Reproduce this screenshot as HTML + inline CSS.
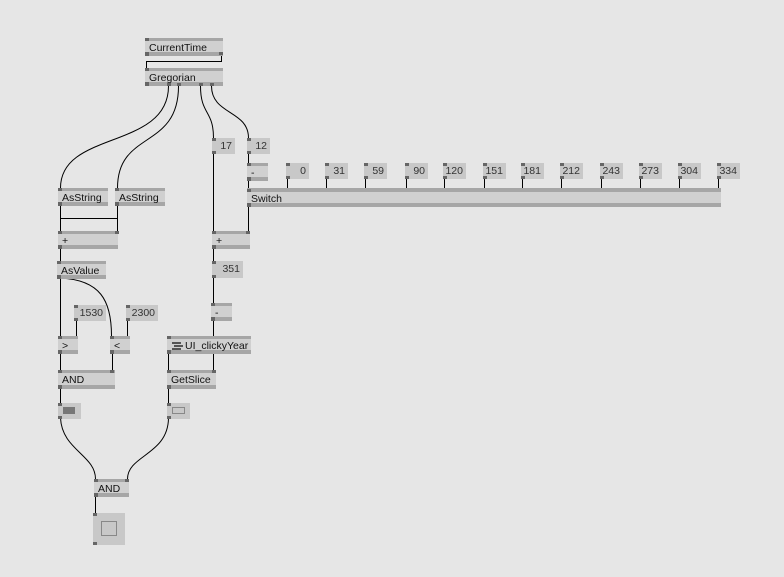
<!DOCTYPE html>
<html><head><meta charset="utf-8"><style>
body{margin:0;width:784px;height:577px;background:#e6e6e6;position:relative;overflow:hidden;font-family:"Liberation Sans",sans-serif;}
.n{position:absolute;box-sizing:border-box;background:#d0d0d0;border-top:3px solid #a6a6a6;border-bottom:4px solid #a6a6a6;font-size:10.5px;color:#111;line-height:12px;padding-top:1px;padding-left:4px;white-space:nowrap;}
.n::before{content:"";position:absolute;left:0;top:-3px;width:4px;height:3px;background:#666}
.n::after{content:"";position:absolute;left:0;bottom:-4px;width:4px;height:4px;background:#666}
.io{position:absolute;box-sizing:border-box;background:#c8c8c8;font-size:10.5px;color:#333;text-align:right;padding-right:3px;line-height:16px;}
.io::before{content:"";position:absolute;left:0;top:0;width:4px;height:3px;background:#666}
.io::after{content:"";position:absolute;left:0;bottom:0;width:4px;height:3px;background:#666}
.p{position:absolute;width:4px;height:3px;background:#666;}
svg{position:absolute;left:0;top:0}
</style></head><body>
<svg width="784" height="577" fill="none" stroke="#000" stroke-width="1">
<polyline points="221.5,55 221.5,61.5 146.5,61.5 146.5,68"/>
<path d="M168.5,86 C168.5,150 60.5,130 60.5,188"/>
<path d="M178.5,86 C178.5,150 117.5,130 117.5,188"/>
<path d="M200.5,86 C200.5,115 213.5,110 213.5,138"/>
<path d="M211.5,86 C211.5,115 248.5,110 248.5,138"/>
<line x1="60.5" y1="205" x2="60.5" y2="231"/>
<polyline points="117.5,205 117.5,231"/>
<line x1="60.5" y1="218.5" x2="117.5" y2="218.5"/>
<line x1="60.5" y1="248" x2="60.5" y2="261"/>
<line x1="60.5" y1="278" x2="60.5" y2="336"/>
<path d="M60.5,278 C100,280 111.5,300 111.5,336"/>
<line x1="76.5" y1="320" x2="76.5" y2="336"/>
<line x1="127.5" y1="320" x2="127.5" y2="336"/>
<line x1="60.5" y1="353" x2="60.5" y2="370"/>
<line x1="112.5" y1="353" x2="112.5" y2="370"/>
<line x1="60.5" y1="388" x2="60.5" y2="403"/>
<path d="M60.5,418 C62,450 95.5,455 95.5,479"/>
<path d="M168.5,418 C168,455 127.5,455 127.5,479"/>
<line x1="95.5" y1="496" x2="95.5" y2="513"/>
<line x1="213.5" y1="153" x2="213.5" y2="231"/>
<line x1="248.5" y1="153" x2="248.5" y2="163"/>
<line x1="248.5" y1="180" x2="248.5" y2="188"/>
<line x1="248.5" y1="206" x2="248.5" y2="231"/>
<line x1="213.5" y1="248" x2="213.5" y2="261"/>
<line x1="213.5" y1="277" x2="213.5" y2="303"/>
<line x1="213.5" y1="320" x2="213.5" y2="336"/>
<line x1="168.5" y1="353" x2="168.5" y2="370"/>
<line x1="213.5" y1="353" x2="213.5" y2="370"/>
<line x1="168.5" y1="388" x2="168.5" y2="403"/>
<g>
<line x1="287.5" y1="178" x2="287.5" y2="189"/><line x1="326.5" y1="178" x2="326.5" y2="189"/>
<line x1="365.5" y1="178" x2="365.5" y2="189"/><line x1="406.5" y1="178" x2="406.5" y2="189"/>
<line x1="444.5" y1="178" x2="444.5" y2="189"/><line x1="484.5" y1="178" x2="484.5" y2="189"/>
<line x1="522.5" y1="178" x2="522.5" y2="189"/><line x1="561.5" y1="178" x2="561.5" y2="189"/>
<line x1="601.5" y1="178" x2="601.5" y2="189"/><line x1="640.5" y1="178" x2="640.5" y2="189"/>
<line x1="679.5" y1="178" x2="679.5" y2="189"/><line x1="718.5" y1="178" x2="718.5" y2="189"/>
</g>
</svg>

<div class="n" style="left:145px;top:38px;width:78px;height:18px">CurrentTime</div>
<div class="p" style="left:219px;top:52px"></div>
<div class="n" style="left:145px;top:68px;width:78px;height:18px">Gregorian</div>
<div class="p" style="left:167px;top:83px"></div><div class="p" style="left:177px;top:83px"></div>
<div class="p" style="left:199px;top:83px"></div><div class="p" style="left:210px;top:83px"></div>

<div class="n" style="left:58px;top:188px;width:50px;height:18px">AsString</div>
<div class="n" style="left:115px;top:188px;width:50px;height:18px">AsString</div>
<div class="n" style="left:58px;top:231px;width:60px;height:18px">+</div>
<div class="p" style="left:115px;top:231px"></div>
<div class="n" style="left:57px;top:261px;width:49px;height:18px">AsValue</div>
<div class="io" style="left:74px;top:305px;width:32px;height:16px">1530</div>
<div class="io" style="left:126px;top:305px;width:32px;height:16px">2300</div>
<div class="n" style="left:58px;top:336px;width:20px;height:18px">&gt;</div>
<div class="n" style="left:110px;top:336px;width:20px;height:18px">&lt;</div>
<div class="n" style="left:58px;top:370px;width:57px;height:19px">AND</div>
<div class="p" style="left:110px;top:370px"></div>
<div class="io" style="left:58px;top:403px;width:23px;height:16px"><div style="position:absolute;left:5px;top:4px;width:12px;height:7px;background:#777"></div></div>
<div class="n" style="left:94px;top:479px;width:35px;height:18px">AND</div>
<div class="p" style="left:125px;top:479px"></div>
<div class="io" style="left:93px;top:513px;width:32px;height:32px"><div style="position:absolute;left:8px;top:8px;width:14px;height:13px;border:1px solid #888"></div></div>

<div class="io" style="left:212px;top:138px;width:23px;height:16px">17</div>
<div class="io" style="left:247px;top:138px;width:23px;height:16px">12</div>
<div class="n" style="left:247px;top:163px;width:21px;height:18px">-</div>
<div class="n" style="left:247px;top:188px;width:474px;height:19px;border-top-width:4px">Switch</div>
<div class="io" style="left:286px;top:163px;width:23px;height:16px">0</div>
<div class="io" style="left:325px;top:163px;width:23px;height:16px">31</div>
<div class="io" style="left:364px;top:163px;width:23px;height:16px">59</div>
<div class="io" style="left:405px;top:163px;width:23px;height:16px">90</div>
<div class="io" style="left:443px;top:163px;width:23px;height:16px">120</div>
<div class="io" style="left:483px;top:163px;width:23px;height:16px">151</div>
<div class="io" style="left:521px;top:163px;width:23px;height:16px">181</div>
<div class="io" style="left:560px;top:163px;width:23px;height:16px">212</div>
<div class="io" style="left:600px;top:163px;width:23px;height:16px">243</div>
<div class="io" style="left:639px;top:163px;width:23px;height:16px">273</div>
<div class="io" style="left:678px;top:163px;width:23px;height:16px">304</div>
<div class="io" style="left:717px;top:163px;width:23px;height:16px">334</div>
<div class="n" style="left:212px;top:231px;width:38px;height:18px">+</div>
<div class="p" style="left:246px;top:231px"></div>
<div class="io" style="left:212px;top:261px;width:31px;height:17px">351</div>
<div class="n" style="left:211px;top:303px;width:21px;height:18px">-</div>
<div class="n" style="left:167px;top:336px;width:84px;height:18px;padding-left:18px">UI_clickyYear</div>
<div style="position:absolute;left:172px;top:342px;width:9px;height:2px;background:#555;box-shadow:2px 3px 0 #555,0 6px 0 #555"></div>
<div class="n" style="left:167px;top:370px;width:49px;height:19px">GetSlice</div>
<div class="p" style="left:212px;top:370px"></div>
<div class="io" style="left:167px;top:403px;width:23px;height:16px"><div style="position:absolute;left:5px;top:4px;width:11px;height:5px;border:1px solid #888"></div></div>
</body></html>
